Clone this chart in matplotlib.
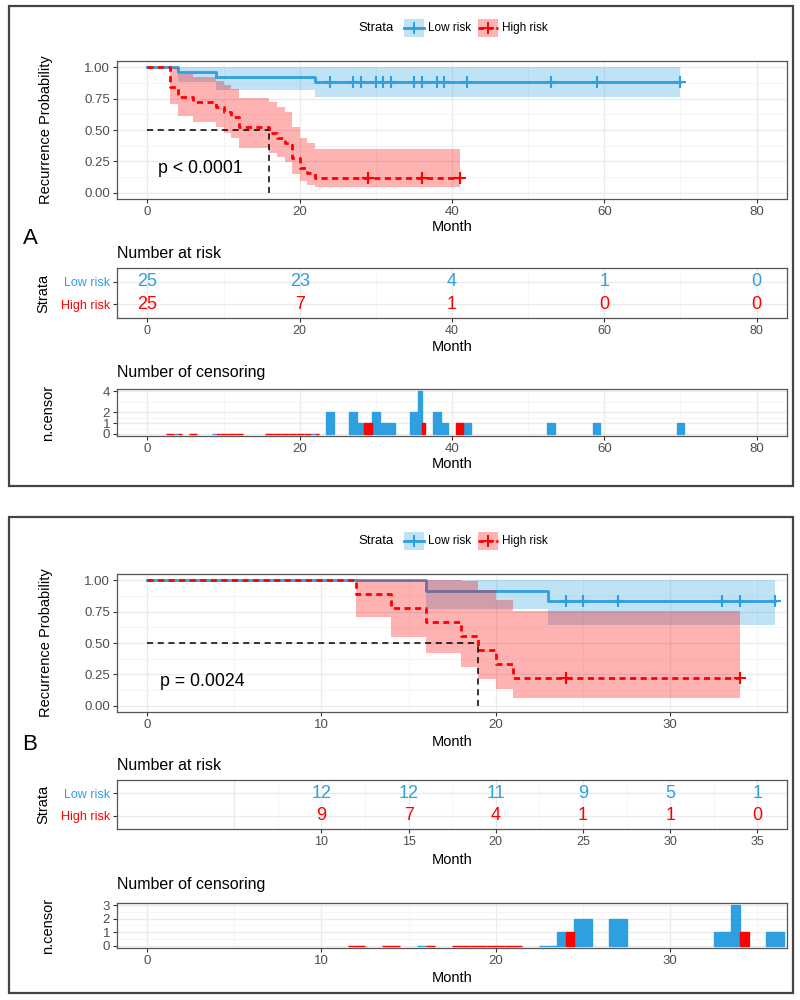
import matplotlib
matplotlib.use('Agg')
import matplotlib.pyplot as plt
from matplotlib.patches import Rectangle
from matplotlib.lines import Line2D
import numpy as np

plt.rcParams['font.family'] = ['Liberation Sans', 'DejaVu Sans']

W, H = 800, 1000
BLUE = '#2E9FDF'
RED = '#FF0000'
GRID = '#EBEBEB'
TICKC = '#4D4D4D'

# ---------------- panel A ----------------
a_low_t = [0, 4, 9, 22]
a_low_s = [1.0, 0.96, 0.92, 0.88]
a_low_lo = [1.0, 0.886, 0.820, 0.761]
a_low_hi = [1.0, 1.0, 1.0, 1.0]
a_low_end = 70
a_low_cens = [24, 27, 28, 30, 31, 32, 35, 36, 38, 39, 42, 53, 59, 70]
a_low_ncens = [2, 2, 1, 2, 1, 1, 2, 4, 2, 1, 1, 1, 1, 1]

a_high_t = [0, 3, 4, 6, 9, 10, 11, 12, 16, 17, 18, 19, 20, 21, 22]
a_high_s = [1.0, .84, .76, .72, .68, .64, .60, .52, .48, .44, .40, .28, .20, .16, .12]
a_high_lo = [1.0, .708, .610, .564, .520, .477, .436, .357, .319, .283, .247, .149, .091, .065, .042]
a_high_hi = [1.0, .997, .947, .919, .890, .859, .826, .758, .722, .685, .647, .525, .438, .393, .347]
a_high_end = 41
a_high_cens = [29, 36, 41]
a_high_ncens = [1, 1, 1]

a_median = 16
a_pval = 'p < 0.0001'
a_risk_t = [0, 20, 40, 60, 80]
a_risk_low = [25, 23, 4, 1, 0]
a_risk_high = [25, 7, 1, 0, 0]

# ---------------- panel B ----------------
b_low_t = [0, 16, 23]
b_low_s = [1.0, 0.917, 0.833]
b_low_lo = [1.0, 0.773, 0.647]
b_low_hi = [1.0, 1.0, 1.0]
b_low_end = 36
b_low_cens = [24, 25, 27, 33, 34, 36]
b_low_ncens = [1, 2, 2, 1, 3, 1]

b_high_t = [0, 12, 14, 16, 18, 19, 20, 21]
b_high_s = [1.0, .889, .778, .667, .556, .444, .333, .222]
b_high_lo = [1.0, .706, .549, .420, .310, .214, .132, .065]
b_high_hi = [1.0, 1.0, 1.0, 1.0, .997, .923, .840, .754]
b_high_end = 34
b_high_cens = [24, 34]
b_high_ncens = [1, 1]

b_median = 19
b_pval = 'p = 0.0024'
b_risk_t = [10, 15, 20, 25, 30, 35]
b_risk_low = [12, 12, 11, 9, 5, 1]
b_risk_high = [9, 7, 4, 1, 1, 0]

fig = plt.figure(figsize=(8, 10), dpi=100)


def add_ax(top, bottom):
    return fig.add_axes([117 / W, 1 - bottom / H, 670 / W, (bottom - top) / H])


def style(ax, xlim, xmaj, xmin, ylim, ymaj, ymin, size=9.5):
    ax.set_xlim(xlim)
    ax.set_ylim(ylim)
    ax.set_xticks(xmaj)
    ax.set_xticks(xmin, minor=True)
    ax.set_yticks(ymaj)
    ax.set_yticks(ymin, minor=True)
    ax.grid(which='major', color=GRID, lw=1.0)
    ax.grid(which='minor', color='#F4F4F4', lw=0.6)
    ax.set_axisbelow(True)
    ax.tick_params(which='major', length=3, color='#333333', labelcolor=TICKC, labelsize=size, pad=2)
    ax.tick_params(which='minor', length=0)
    for sp in ax.spines.values():
        sp.set_color('#555555')
        sp.set_linewidth(0.9)


def surv_at(t, s, x):
    return s[np.searchsorted(t, x, side='right') - 1]


def km(ax, t, s, lo, hi, end, cens, color, ls):
    tt = t + [end]
    ax.step(tt, s + [s[-1]], where='post', color=color, ls=ls, lw=2, zorder=3)
    ax.fill_between(tt, lo + [lo[-1]], hi + [hi[-1]], step='post',
                    color=color, alpha=0.3, lw=0, zorder=4)
    ys = [surv_at(t, s, c) for c in cens]
    ax.plot(cens, ys, ls='none', marker='+', ms=9, mew=1.5, color=color, zorder=5)


def km_panel(ax, low, high, median, pval, ptx, xlim, xmaj, xmin, month_y):
    km(ax, *low, BLUE, '-')
    km(ax, *high, RED, (0, (2.2, 1.6)))
    ax.plot([0, median], [0.5, 0.5], color='black', ls=(0, (4, 3)), lw=1.1, zorder=6)
    ax.plot([median, median], [0, 0.5], color='black', ls=(0, (4, 3)), lw=1.1, zorder=6)
    ax.text(ptx, 0.19, pval, fontsize=12.8, ha='left', va='center')
    style(ax, xlim, xmaj, xmin, (-0.05, 1.05),
          [0, 0.25, 0.5, 0.75, 1.0], [0.125, 0.375, 0.625, 0.875])
    ax.set_yticklabels(['0.00', '0.25', '0.50', '0.75', '1.00'])
    ax.set_ylabel('Recurrence Probability', fontsize=10.5)
    ax.yaxis.set_label_coords(-0.095, 0.5)
    ax.set_xlabel('Month', fontsize=10.5)
    ax.xaxis.set_label_coords(0.5, month_y)


def risk_panel(ax, times, low, high, xlim, xmaj, xmin, month_y):
    for t, n in zip(times, low):
        ax.text(t, 2, str(n), color=BLUE, fontsize=13, ha='center', va='center')
    for t, n in zip(times, high):
        ax.text(t, 1, str(n), color=RED, fontsize=13, ha='center', va='center')
    style(ax, xlim, xmaj, xmin, (0.4, 2.6), [1, 2], [], size=9)
    ax.set_yticklabels(['High risk', 'Low risk'])
    ax.get_yticklabels()[0].set_color(RED)
    ax.get_yticklabels()[1].set_color(BLUE)
    ax.set_ylabel('Strata', fontsize=10.5)
    ax.yaxis.set_label_coords(-0.1, 0.5)
    ax.set_xlabel('Month', fontsize=10.5)
    ax.xaxis.set_label_coords(0.5, month_y)


def censor_panel(ax, low_t, low_c, low_n, high_t, high_c, high_n,
                 xlim, xmaj, xmin, ylim, ymaj, ymin, month_y):
    low = dict.fromkeys(low_t[1:], 0)
    low.update(zip(low_c, low_n))
    high = dict.fromkeys(high_t[1:], 0)
    high.update(zip(high_c, high_n))
    for d, other, color, side in [(low, high, BLUE, -1), (high, low, RED, 1)]:
        for t, n in d.items():
            if t in other:
                x, w = t + side * 0.25, 0.5
            else:
                x, w = t, 1.0
            ax.bar(x, n, width=w, color=color, edgecolor=color, lw=1.0, zorder=3)
    style(ax, xlim, xmaj, xmin, ylim, ymaj, ymin)
    ax.set_ylabel('n.censor', fontsize=10.5)
    ax.yaxis.set_label_coords(-0.092, 0.5)
    ax.set_xlabel('Month', fontsize=10.5)
    ax.xaxis.set_label_coords(0.5, month_y)


def legend(yc):
    fig.text(376 / W, 1 - yc / H, 'Strata', fontsize=9.5, ha='center', va='center')
    for x0, color, ls, label in [(404, BLUE, '-', 'Low risk'), (478, RED, (0, (2, 1.2)), 'High risk')]:
        fig.add_artist(Rectangle((x0 / W, 1 - (yc + 9) / H), 20 / W, 18 / H,
                                 transform=fig.transFigure, facecolor=color,
                                 alpha=0.3, lw=0))
        fig.add_artist(Line2D([x0 / W, (x0 + 20) / W], [1 - yc / H] * 2,
                              transform=fig.transFigure, color=color, lw=2, ls=ls))
        fig.add_artist(Line2D([(x0 + 10) / W], [1 - yc / H], transform=fig.transFigure,
                              marker='+', ms=8, mew=1.4, color=color))
        fig.text((x0 + 24) / W, 1 - yc / H, label, fontsize=8.5, ha='left', va='center')


def frame(top, bottom):
    fig.add_artist(Rectangle((9 / W, 1 - bottom / H), 784 / W, (bottom - top) / H,
                             transform=fig.transFigure, fill=False,
                             edgecolor='#444444', lw=1.6))


# ---- panel A ----
frame(6, 486)
legend(28)
ax = add_ax(61, 199)
km_panel(ax,
         (a_low_t, a_low_s, a_low_lo, a_low_hi, a_low_end, a_low_cens),
         (a_high_t, a_high_s, a_high_lo, a_high_hi, a_high_end, a_high_cens),
         a_median, a_pval, 1.4, (-4, 84), [0, 20, 40, 60, 80], [10, 30, 50, 70], -0.15)
fig.text(30 / W, 1 - 238 / H, 'A', fontsize=16, ha='center', va='center')
fig.text(117 / W, 1 - 253 / H, 'Number at risk', fontsize=11.5, ha='left', va='center')
ax = add_ax(268, 318)
risk_panel(ax, a_risk_t, a_risk_low, a_risk_high, (-4, 84),
           [0, 20, 40, 60, 80], [10, 30, 50, 70], -0.44)
fig.text(117 / W, 1 - 373 / H, 'Number of censoring', fontsize=11.5, ha='left', va='center')
ax = add_ax(389, 436)
censor_panel(ax, a_low_t, a_low_cens, a_low_ncens, a_high_t, a_high_cens, a_high_ncens,
             (-4, 84), [0, 20, 40, 60, 80], [10, 30, 50, 70],
             (-0.2, 4.2), [0, 1, 2, 4], [0.5, 1.5, 3], -0.45)

# ---- panel B ----
frame(517, 993)
legend(541)
ax = add_ax(574, 712)
km_panel(ax,
         (b_low_t, b_low_s, b_low_lo, b_low_hi, b_low_end, b_low_cens),
         (b_high_t, b_high_s, b_high_lo, b_high_hi, b_high_end, b_high_cens),
         b_median, b_pval, 0.75, (-1.72, 36.7), [0, 10, 20, 30], [5, 15, 25, 35], -0.165)
fig.text(30 / W, 1 - 745 / H, 'B', fontsize=16, ha='center', va='center')
fig.text(117 / W, 1 - 766 / H, 'Number at risk', fontsize=11.5, ha='left', va='center')
ax = add_ax(780, 829)
risk_panel(ax, b_risk_t, b_risk_low, b_risk_high, (-1.72, 36.7),
           [10, 15, 20, 25, 30, 35], [7.5, 12.5, 17.5, 22.5, 27.5, 32.5], -0.48)
ax.axvline(5, color=GRID, lw=1.0, zorder=0)
fig.text(117 / W, 1 - 885 / H, 'Number of censoring', fontsize=11.5, ha='left', va='center')
ax = add_ax(903, 948)
censor_panel(ax, b_low_t, b_low_cens, b_low_ncens, b_high_t, b_high_cens, b_high_ncens,
             (-1.72, 36.7), [0, 10, 20, 30], [5, 15, 25, 35],
             (-0.15, 3.15), [0, 1, 2, 3], [0.5, 1.5, 2.5], -0.5)

fig.savefig('out.png', dpi=100)
